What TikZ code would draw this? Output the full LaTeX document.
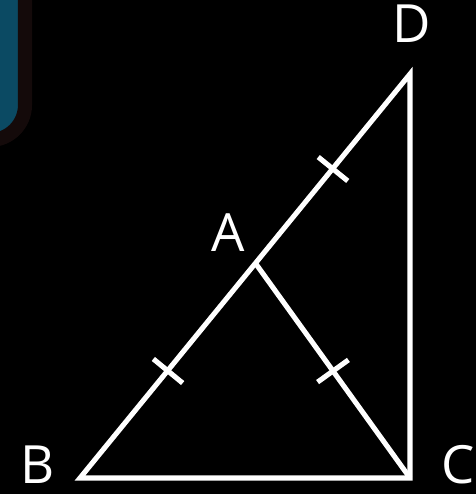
\documentclass[tikz,border=0pt]{standalone}
\usepackage{fontspec}
\setmainfont{Open Sans}
\usetikzlibrary{positioning}
\definecolor{panelteal}{HTML}{0B4A63}
\definecolor{paneledge}{HTML}{140A0A}

\begin{document}
\begin{tikzpicture}[x=0.02cm, y=-0.02cm,
    seg/.style={draw=white, line width=2.9pt, line join=miter},
    tickmark/.style={draw=white, line width=2.9pt, sloped, inner sep=0pt, minimum width=0pt, minimum height=0.76cm},
    lbl/.style={text=white, font=\fontsize{30}{34}\selectfont, inner sep=0pt}]
    \fill[black] (0,0) rectangle (476,494);
    \useasboundingbox (0,0) rectangle (476,494);
    % corner panel
    \begin{scope}
        \clip (0,0) rectangle (476,494);
        \draw[fill=panelteal, draw=paneledge, line width=8pt, rounded corners=0.7cm] (-60,-60) rectangle (25,140);
    \end{scope}
    % points
    \coordinate (B) at (80,478);
    \coordinate (C) at (410,478);
    \coordinate (D) at (410,74);
    \coordinate (A) at (256,264);
    % triangle
    \draw[seg] (B) -- (C) -- (D) -- cycle;
    \draw[seg] (A) -- (C);
    % equal marks
    \path (B) -- (A) node[midway, tickmark] {};
    \path (A) -- (D) node[midway, tickmark] {};
    \path (A) -- (C) node[midway, tickmark] {};
    % labels
    \node[lbl] (labD) at (412,24) {D};
    \node[lbl] (labA) at (228,233) {A};
    \node[lbl] (labB) at (38,465) {B};
    \node[lbl] (labC) at (458,465) {C};
\end{tikzpicture}
\end{document}
